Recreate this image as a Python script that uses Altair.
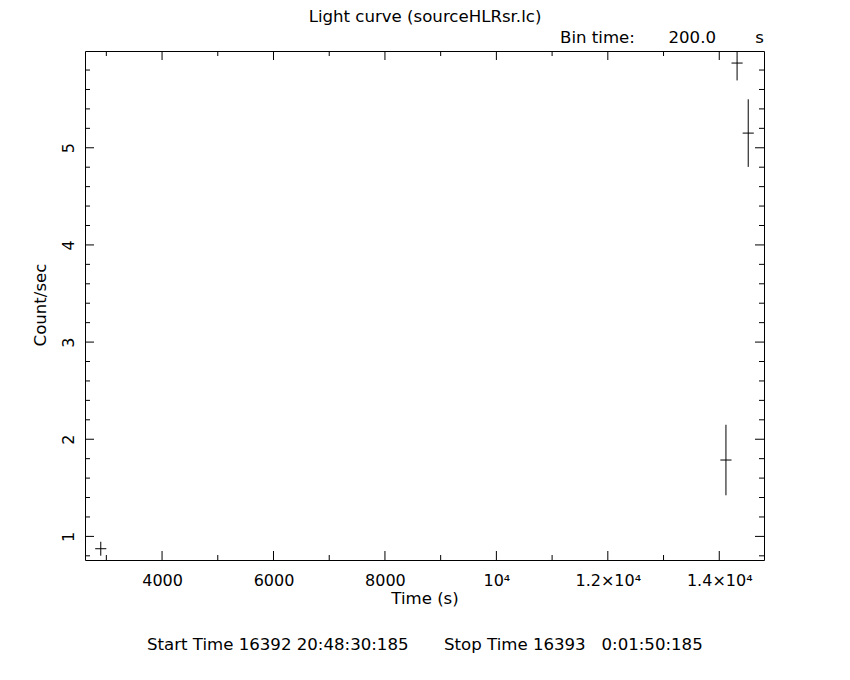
import altair as alt
import pandas as pd

# ---- data ----
times = [2900, 14120, 14320, 14520]          # bin centres (s)
rates = [0.873, 1.786, 5.872, 5.151]         # count/sec
errors = [0.072, 0.363, 0.179, 0.348]        # 1-sigma errors
bin_time = 200.0

x_domain = [2617, 14803]
y_domain = [0.757, 5.996]

x_major = [4000, 6000, 8000, 10000, 12000, 14000]
x_major_labels = ["4000", "6000", "8000", "10⁴", "1.2×10⁴", "1.4×10⁴"]
x_minor = [3000, 5000, 7000, 9000, 11000, 13000]
y_major = [1, 2, 3, 4, 5]
y_major_labels = ["1", "2", "3", "4", "5"]
y_minor = [0.8, 1.2, 1.4, 1.6, 1.8, 2.2, 2.4, 2.6, 2.8, 3.2, 3.4, 3.6, 3.8,
           4.2, 4.4, 4.6, 4.8, 5.2, 5.4, 5.6, 5.8]

title_text = "Light curve (sourceHLRsr.lc)"
bin_label = "Bin time:"
bin_value = "200.0"
bin_unit = "s"
x_title = "Time (s)"
y_title = "Count/sec"
start_text = "Start Time 16392 20:48:30:185"
stop_text = "Stop Time 16393\u00a0\u00a0\u00a00:01:50:185"

# ---- layout ----
W, H = 679, 509
FONT = "DejaVu Sans"
FS = 16
FS_TXT = 16.6
MAJ, MIN = 9, 5

df = pd.DataFrame({"t": times, "rate": rates, "err": errors})
df["lo"] = df["rate"] - df["err"]
df["hi"] = df["rate"] + df["err"]
df["t0"] = df["t"] - bin_time / 2
df["t1"] = df["t"] + bin_time / 2


def label_expr(vals, labs):
    expr = "''"
    for v, l in zip(reversed(vals), reversed(labs)):
        expr = f"datum.value == {v} ? '{l}' : ({expr})"
    return expr


xs = alt.Scale(domain=x_domain, nice=False, zero=False)
ys = alt.Scale(domain=y_domain, nice=False, zero=False)

x_axis = alt.Axis(values=x_major, labelExpr=label_expr(x_major, x_major_labels),
                  ticks=False, grid=False, domain=False, title=None,
                  labelFont=FONT, labelFontSize=FS, labelColor="black",
                  labelPadding=12, labelFlush=False, labelOverlap=False)
y_axis = alt.Axis(values=y_major, labelExpr=label_expr(y_major, y_major_labels),
                  ticks=False, grid=False, domain=False, title=None,
                  labelFont=FONT, labelFontSize=FS, labelColor="black",
                  labelAngle=270, labelAlign="center", labelBaseline="alphabetic",
                  labelPadding=12, labelFlush=False, labelOverlap=False)

base = alt.Chart(df)

# error bars
vbar = base.mark_rule(color="black", strokeWidth=1, clip=True).encode(
    x=alt.X("t:Q", scale=xs, axis=x_axis),
    y=alt.Y("lo:Q", scale=ys, axis=y_axis),
    y2="hi:Q",
)
hbar = base.mark_rule(color="black", strokeWidth=1, clip=True).encode(
    x=alt.X("t0:Q", scale=xs, axis=x_axis),
    x2="t1:Q",
    y=alt.Y("rate:Q", scale=ys, axis=y_axis),
)

# inward ticks on all four sides
def xticks(vals, length):
    d = alt.Chart(pd.DataFrame({"v": vals}))
    bot = d.mark_rule(color="black", strokeWidth=1).encode(
        x=alt.X("v:Q", scale=xs, axis=x_axis), y=alt.value(H), y2=alt.value(H - length))
    top = d.mark_rule(color="black", strokeWidth=1).encode(
        x=alt.X("v:Q", scale=xs, axis=x_axis), y=alt.value(0), y2=alt.value(length))
    return [bot, top]


def yticks(vals, length):
    d = alt.Chart(pd.DataFrame({"v": vals}))
    left = d.mark_rule(color="black", strokeWidth=1).encode(
        y=alt.Y("v:Q", scale=ys, axis=y_axis), x=alt.value(0), x2=alt.value(length))
    right = d.mark_rule(color="black", strokeWidth=1).encode(
        y=alt.Y("v:Q", scale=ys, axis=y_axis), x=alt.value(W), x2=alt.value(W - length))
    return [left, right]


def txt(s, x, y, align="center", angle=0, baseline="alphabetic"):
    kw = dict(font=FONT, fontSize=FS_TXT, color="black", align=align, baseline=baseline)
    if angle:
        kw["angle"] = angle
    return alt.Chart(pd.DataFrame({"s": [s]})).mark_text(**kw).encode(
        text="s:N", x=alt.value(x), y=alt.value(y))


texts = [
    txt(title_text, 340, -29),
    txt(bin_label, 475, -8, align="left"),
    txt(bin_value, 631, -8, align="right"),
    txt(bin_unit, 679, -8, align="right"),
    txt(x_title, 340, 553),
    txt(y_title, -39, 254, angle=270),
    txt(start_text, 62, 599, align="left"),
    txt(stop_text, 359, 599, align="left"),
]

chart = alt.layer(
    *xticks(x_major, MAJ), *xticks(x_minor, MIN),
    *yticks(y_major, MAJ), *yticks(y_minor, MIN),
    vbar, hbar, *texts,
).properties(
    width=W, height=H,
    autosize=alt.AutoSizeParams(type="none"),
    padding={"left": 77, "top": 43, "right": 70, "bottom": 110},
    background="white",
).configure_view(stroke="black", strokeWidth=1)

chart.save("out.html", embed_options={"renderer": "svg", "actions": False})
